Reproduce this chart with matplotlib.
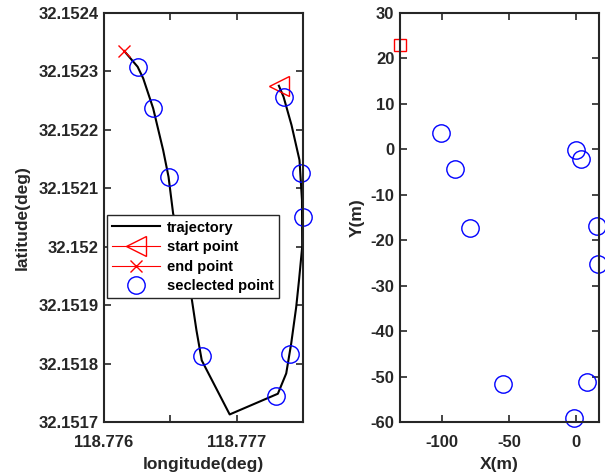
import numpy as np
import matplotlib.pyplot as plt

plt.rcParams['font.family'] = ['Liberation Sans', 'DejaVu Sans']
plt.rcParams['font.weight'] = 'bold'
plt.rcParams['axes.unicode_minus'] = False

# trajectory (deg)
traj_lon = [118.7773181, 118.7773534, 118.7774136, 118.7774737, 118.7774925,
            118.7774940, 118.7774700, 118.7774489, 118.7774113, 118.7773737,
            118.7773106, 118.7769474, 118.7767369, 118.7766970, 118.7766594,
            118.7765865, 118.7765211, 118.7764865, 118.7764459, 118.7763707,
            118.7762955, 118.7762534, 118.7761526]
traj_lat = [32.1522755, 32.1522567, 32.1522082, 32.1521483, 32.1520798,
            32.1519998, 32.1519428, 32.1518971, 32.1518349, 32.1517836,
            32.1517488, 32.1517134, 32.1518058, 32.1518572, 32.1519142,
            32.1519942, 32.1520570, 32.1521197, 32.1521654, 32.1522368,
            32.1522882, 32.1523080, 32.1523349]

start_lon, start_lat = 118.7773181, 32.1522755
end_lon, end_lat = 118.7761526, 32.1523349

sel_lon = [118.7762534, 118.7763707, 118.7764865, 118.7773534, 118.7774865,
           118.7774985, 118.7767421, 118.7774038, 118.7772985]
sel_lat = [32.1523080, 32.1522368, 32.1521197, 32.1522567, 32.1521255,
           32.1520512, 32.1518127, 32.1518161, 32.1517447]

# local coordinates (m)
ref_x, ref_y = -131.7, 23.0
pts_x = [-101.2, -90.3, -79.5, 0.2, 4.0, 16.2, 17.0, -54.5, 8.2, -1.3]
pts_y = [3.6, -4.3, -17.3, -0.1, -2.2, -16.8, -25.1, -51.5, -51.1, -59.1]

lon_ticks = [118.776, 118.7765, 118.777, 118.7775]
lon_labels = ['118.776', '', '118.777', '']
lat_ticks = [32.1517, 32.1518, 32.1519, 32.152, 32.1521, 32.1522, 32.1523, 32.1524]
lat_labels = ['32.1517', '32.1518', '32.1519', '32.152', '32.1521', '32.1522', '32.1523', '32.1524']

fig = plt.figure(figsize=(6.05, 4.75), dpi=100)
ax1 = fig.add_axes([0.1719, 0.111, 0.3289, 0.8617])
ax2 = fig.add_axes([0.6612, 0.111, 0.3284, 0.8617])

spine_c = '#262626'
for ax in (ax1, ax2):
    for s in ax.spines.values():
        s.set_linewidth(1.5)
        s.set_color(spine_c)
    ax.tick_params(direction='in', top=True, right=True, length=5, width=1.2,
                   colors=spine_c, labelsize=12, pad=4)
    ax.tick_params(axis='x', pad=9)

ax1.plot(traj_lon, traj_lat, color='k', lw=1.5, label='trajectory')
ax1.plot([start_lon], [start_lat], color='red', lw=0.8, marker='<', ms=14,
         mfc='none', mew=1.0, label='start point', clip_on=False)
ax1.plot([end_lon], [end_lat], color='red', lw=0.8, marker='x', ms=9,
         mew=1.0, label='end point', clip_on=False)
ax1.plot(sel_lon, sel_lat, ls='none', marker='o', ms=12.5, mfc='none',
         mec='blue', mew=1.0, label='seclected point', clip_on=False)

ax1.set_xlim(118.776, 118.7775)
ax1.set_ylim(32.1517, 32.1524)
ax1.set_xticks(lon_ticks)
ax1.set_xticklabels(lon_labels, fontweight='bold')
ax1.set_yticks(lat_ticks)
ax1.set_yticklabels(lat_labels, fontweight='bold')
ax1.set_xlabel('longitude(deg)', fontsize=12.5, fontweight='bold', color=spine_c, labelpad=5)
ax1.set_ylabel('latitude(deg)', fontsize=12.5, fontweight='bold', color=spine_c, labelpad=6)

leg = ax1.legend(loc='lower left', bbox_to_anchor=(0.013, 0.303), borderaxespad=0,
                 fancybox=False, edgecolor=spine_c, framealpha=1,
                 prop={'weight': 'bold', 'size': 10.5}, handlelength=3.3,
                 labelspacing=0.38, borderpad=0.35, handletextpad=0.5)
leg.get_frame().set_linewidth(1.0)

ax2.plot([ref_x], [ref_y], ls='none', marker='s', ms=9, mfc='none', mec='red',
         mew=1.0, clip_on=False)
ax2.plot(pts_x, pts_y, ls='none', marker='o', ms=12.5, mfc='none', mec='blue',
         mew=1.0, clip_on=False)
ax2.set_xlim(-131.7, 17.2)
ax2.set_ylim(-60, 30)
ax2.set_xticks([-100, -50, 0])
ax2.set_yticks(np.arange(-60, 31, 10))
for lab in ax2.get_xticklabels() + ax2.get_yticklabels():
    lab.set_fontweight('bold')
ax2.set_xlabel('X(m)', fontsize=12.5, fontweight='bold', color=spine_c, labelpad=5)
ax2.set_ylabel('Y(m)', fontsize=12.5, fontweight='bold', color=spine_c, labelpad=4)

fig.savefig('out.png', dpi=100)
